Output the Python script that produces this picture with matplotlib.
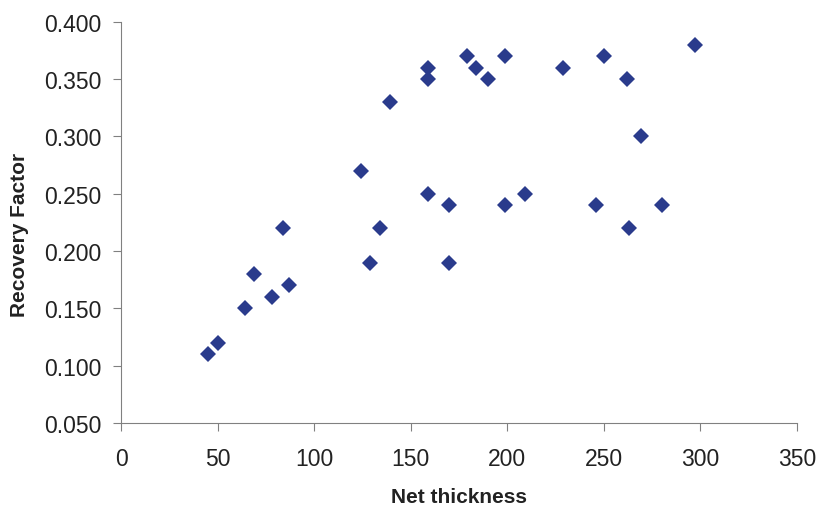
import matplotlib
matplotlib.use("Agg")
import matplotlib.pyplot as plt

# Net thickness vs recovery factor
net_thickness = [45, 50, 64, 69, 78, 84, 87, 124, 129, 134, 139,
                 159, 159, 159, 170, 170, 179, 184, 190, 199, 199,
                 209, 229, 246, 250, 262, 263, 269, 280, 297]
recovery_factor = [0.11, 0.12, 0.15, 0.18, 0.16, 0.22, 0.17, 0.27, 0.19, 0.22, 0.33,
                   0.36, 0.35, 0.25, 0.24, 0.19, 0.37, 0.36, 0.35, 0.37, 0.24,
                   0.25, 0.36, 0.24, 0.37, 0.35, 0.22, 0.30, 0.24, 0.38]

plt.rcParams['font.family'] = ['Liberation Sans', 'DejaVu Sans']

fig = plt.figure(figsize=(8.19, 5.06), dpi=100)
ax = fig.add_axes([0.148, 0.162, 0.825, 0.793])

ax.plot(net_thickness, recovery_factor, linestyle='none', marker='D',
        markersize=8, color='#2a3b8c', markeredgewidth=0)

ax.set_xlim(0, 350)
ax.set_ylim(0.05, 0.40)
ax.set_xticks(range(0, 351, 50))
ax.set_yticks([0.05 + 0.05 * i for i in range(8)])
ax.set_yticklabels(['%.3f' % (0.05 + 0.05 * i) for i in range(8)])

for side in ['top', 'right']:
    ax.spines[side].set_visible(False)
for side in ['left', 'bottom']:
    ax.spines[side].set_color('#808080')
ax.tick_params(direction='out', length=6, color='#808080', labelsize=16.5,
               labelcolor='#222222')
ax.tick_params(axis='x', pad=11)
ax.tick_params(axis='y', pad=8)

ax.set_xlabel('Net thickness', fontsize=15, fontweight='bold', color='#222222')
ax.set_ylabel('Recovery Factor', fontsize=15, fontweight='bold', color='#222222')
ax.xaxis.set_label_coords(0.5, -0.182)
ax.xaxis.label.set_va('center')
ax.yaxis.set_label_coords(-0.151, 0.471)
ax.yaxis.label.set_va('center')

fig.savefig('out.png', dpi=100)
plt.close(fig)
